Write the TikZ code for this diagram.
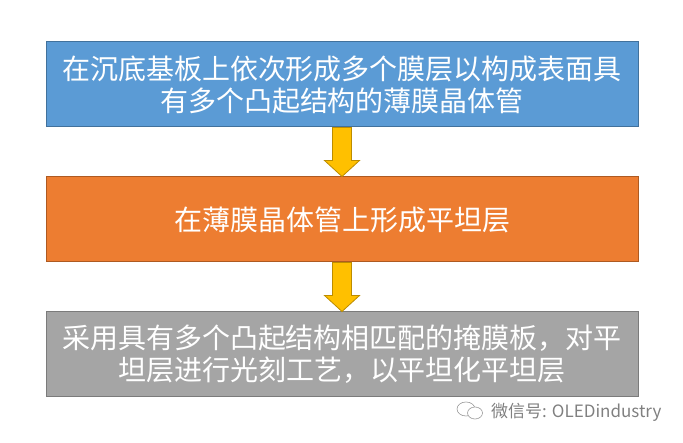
\documentclass[tikz,border=0pt]{standalone}
\usepackage{fontspec}
\setmainfont{Noto Sans CJK SC}
\usetikzlibrary{calc}
\definecolor{boxblue}{HTML}{5B9BD5}
\definecolor{lineblue}{HTML}{41719C}
\definecolor{boxorange}{HTML}{ED7D31}
\definecolor{lineorange}{HTML}{AE5A21}
\definecolor{boxgray}{HTML}{A5A5A5}
\definecolor{linegray}{HTML}{7B7B7B}
\definecolor{arrowgold}{HTML}{FFC000}
\definecolor{linegold}{HTML}{BC8C00}
\tikzset{
  stepbox/.style={draw, line width=1pt, minimum width=592pt, minimum height=85pt,
    inner sep=0pt, align=center, text=white,
    font=\fontsize{28}{32}\selectfont},
  flowarrow/.style={fill=arrowgold, draw=linegold, line width=0.8pt, line join=miter}
}
\newcommand{\flowdown}[2]{%
  \draw[flowarrow] ($(#1.south)+(-9.5,0)$) -- ($(#2.north)+(-9.5,16)$)
    -- ($(#2.north)+(-17.5,16)$) -- (#2.north) -- ($(#2.north)+(17.5,16)$)
    -- ($(#2.north)+(9.5,16)$) -- ($(#1.south)+(9.5,0)$) -- cycle;}
\begin{document}
\begin{tikzpicture}[x=1pt,y=1pt]
\useasboundingbox (0,0) rectangle (683,-443);
\node[stepbox, fill=boxblue, draw=lineblue] (form) at (342,-84.5)
  {在沉底基板上依次形成多个膜层以构成表面具\\有多个凸起结构的薄膜晶体管};
\node[stepbox, fill=boxorange, draw=lineorange] (flat) at (342,-219.5)
  {在薄膜晶体管上形成平坦层};
\node[stepbox, fill=boxgray, draw=linegray] (mask) at (342,-354.5)
  {采用具有多个凸起结构相匹配的掩膜板，对平\\坦层进行光刻工艺，以平坦化平坦层};
\flowdown{form}{flat}
\flowdown{flat}{mask}
% watermark
\draw[gray!80, line width=0.6pt] (466,-409) ellipse (9 and 7);
\draw[gray!80, line width=0.6pt, fill=white] (475,-413) ellipse (7.5 and 6);
\node[anchor=west, text=gray, inner sep=0pt, font=\fontsize{17}{19}\selectfont]
  (mark) at (491,-412) {微信号: OLEDindustry};
\end{tikzpicture}
\end{document}
